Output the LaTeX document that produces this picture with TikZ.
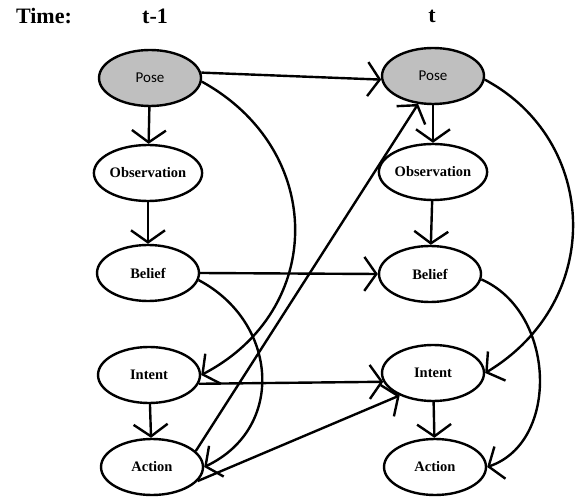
\documentclass[tikz,border=0pt]{standalone}
\usepackage{fontspec}
\setmainfont{Liberation Serif}
\newfontfamily\posefont{Carlito}
\usetikzlibrary{arrows.meta,shapes.geometric}

\begin{document}
\begin{tikzpicture}[x=1pt, y=-1pt,
		state/.style={draw, ellipse, line width=2.4pt, minimum width=102pt, minimum height=56pt, inner sep=0pt, font=\fontsize{14.5}{16}\selectfont\bfseries},
		posestate/.style={state, fill=black!25, font=\fontsize{15}{16}\selectfont\posefont},
		link/.style={line width=2.4pt, -{Straight Barb[length=12pt, width=34pt, line width=2.4pt]}},
		timelabel/.style={font=\fontsize{22}{24}\selectfont\bfseries}]
			%%%%% START %%%%%
			
			\useasboundingbox (0, 0) rectangle (575, 502);
			
			\node[timelabel] (time) at (44, 16) {Time:};
			\node[timelabel] (prev) at (155, 16) {t-1};
			\node[timelabel] (now) at (432, 16) {t};
			
			\node[posestate] (poseL) at (150, 78) {Pose};
			\node[state] (obsL) at (148, 173) {Observation};
			\node[state] (belL) at (148, 273) {Belief};
			\node[state] (intL) at (149, 375) {Intent};
			\node[state] (actL) at (152, 467) {Action};
			
			\node[posestate] (poseR) at (433, 76) {Pose};
			\node[state] (obsR) at (433, 172) {Observation};
			\node[state] (belR) at (430, 274) {Belief};
			\node[state] (intR) at (433, 373) {Intent};
			\node[state] (actR) at (435, 467) {Action};
			
			\draw[link] (poseL) -- (obsL);
			\draw[link] (obsL) -- (belL);
			\draw[link] (intL) -- (actL);
			\draw[link] (poseR) -- (obsR);
			\draw[link] (obsR) -- (belR);
			\draw[link] (intR) -- (actR);
			
			\draw[link] (poseL.6) -- (poseR.184);
			\draw[link] (belL.east) -- (belR.west);
			\draw[link] (intL.-10) -- (intR.190);
			
			\draw[link] (poseL.-4) .. controls (326, 150) and (326, 310) .. (intL.east);
			\draw[link] (belL.-8) .. controls (278, 322) and (286, 428) .. (actL.east);
			\draw[link] (actL.20) -- (poseR.-118);
			\draw[link] (actL.-17) -- (intR.-146);
			
			\draw[link] (poseR.-4) .. controls (598, 140) and (606, 300) .. (intR.east);
			\draw[link] (belR.-6) .. controls (556, 312) and (560, 442) .. (actR.east);
			
			%%%%% END %%%%%
\end{tikzpicture}
\end{document}
